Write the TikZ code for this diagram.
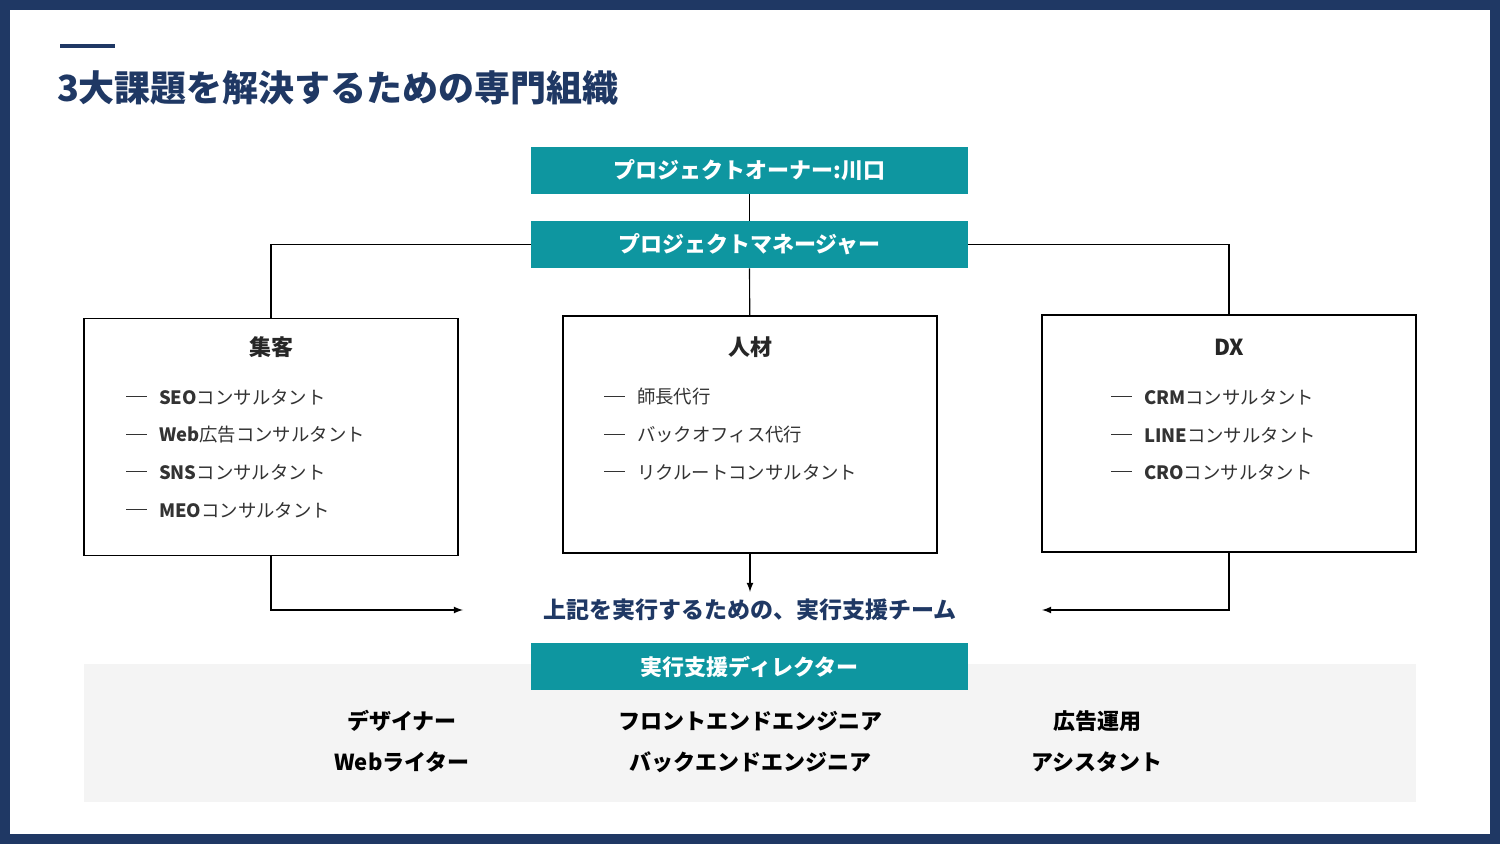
\documentclass[tikz,border=0pt]{standalone}
\usepackage{fontspec}
\setmainfont{Noto Sans CJK JP}
\usetikzlibrary{positioning,arrows}
\definecolor{navy}{HTML}{1F3864}
\definecolor{teal2}{HTML}{0E96A0}
\definecolor{band}{HTML}{F4F4F4}
\tikzset{
  bar/.style={fill=teal2,text=white,font=\fontsize{11}{13}\selectfont\bfseries,minimum width=218.5pt,minimum height=23.5pt,inner sep=0pt},
  unit/.style={draw,line width=0.6pt,minimum width=187pt,minimum height=118.5pt,inner sep=0pt},
  head/.style={font=\fontsize{11}{13}\selectfont\bfseries,text=black!85},
  item/.style={anchor=west,font=\fontsize{9.2}{11}\selectfont,text=black!80},
  staff/.style={font=\fontsize{11}{13}\selectfont\bfseries}
}
\newcommand{\itemdash}[2]{\draw[black!80,line width=0.5pt] (#1,#2) -- ++(21,0);}
\begin{document}
\begin{tikzpicture}[x=0.5pt,y=-0.5pt]
		\fill[navy] (0,0) rectangle (1500,844);
		\fill[white] (10,10) rectangle (1490,834);
		\useasboundingbox (0,0) rectangle (1500,844);
		\draw[navy,line width=2pt] (60,46) -- (115,46);
		\node[anchor=west,text=navy,font=\fontsize{18}{21}\selectfont\bfseries] (title) at (50,88) {3大課題を解決するための専門組織};
		% top
		\node[bar] (owner) at (749.5,170.5) {プロジェクトオーナー:川口};
		\node[bar] (pm) at (749.5,244.5) {プロジェクトマネージャー};
		\node[unit] (shukyaku) at (271,437) {};
		\node[unit] (jinzai) at (750,434.5) {};
		\node[unit] (dx) at (1229,433.5) {};
		\draw[line width=0.6pt] (owner) -- (pm);
		\draw[line width=0.6pt] (pm) -- (jinzai);
		\draw[line width=0.6pt] (pm.west) -| (shukyaku.north);
		\draw[line width=0.6pt] (pm.east) -| (dx.north);
		% units
		\node[head] at (271,347) {集客};
		\node[head] at (750,347) {人材};
		\node[head] at (1229,347) {DX};
		\foreach \y/\t in {397/\textbf{SEO}コンサルタント,435/\textbf{Web}広告コンサルタント,472/\textbf{SNS}コンサルタント,510/\textbf{MEO}コンサルタント}{
			\itemdash{126}{\y}
			\node[item] at (152,\y) {\t};
		}
		\foreach \y/\t in {397/師長代行,435/バックオフィス代行,472/リクルートコンサルタント}{
			\itemdash{604}{\y}
			\node[item] at (630,\y) {\t};
		}
		\foreach \y/\t in {397/\textbf{CRM}コンサルタント,435/\textbf{LINE}コンサルタント,472/\textbf{CRO}コンサルタント}{
			\itemdash{1111}{\y}
			\node[item] at (1137,\y) {\t};
		}
		% execution team
		\node[text=navy,font=\fontsize{11.5}{13}\selectfont\bfseries] (team) at (750,610) {上記を実行するための、実行支援チーム};
		\coordinate (tl) at (463,610);
		\coordinate (tr) at (1042,610);
		\draw[-latex,line width=0.6pt] (shukyaku.south) |- (tl);
		\draw[-latex,line width=0.6pt] (dx.south) |- (tr);
		\draw[-latex,line width=0.6pt] (jinzai.south) -- (team.north);
		\fill[band] (84,664) rectangle (1416,802);
		\node[bar] (director) at (749.5,666.5) {実行支援ディレクター};
		\node[staff] at (402,721) {デザイナー};
		\node[staff] at (402,762) {Webライター};
		\node[staff] at (750,721) {フロントエンドエンジニア};
		\node[staff] at (750,762) {バックエンドエンジニア};
		\node[staff] at (1097,721) {広告運用};
		\node[staff] at (1097,762) {アシスタント};
	\end{tikzpicture}
\end{document}
